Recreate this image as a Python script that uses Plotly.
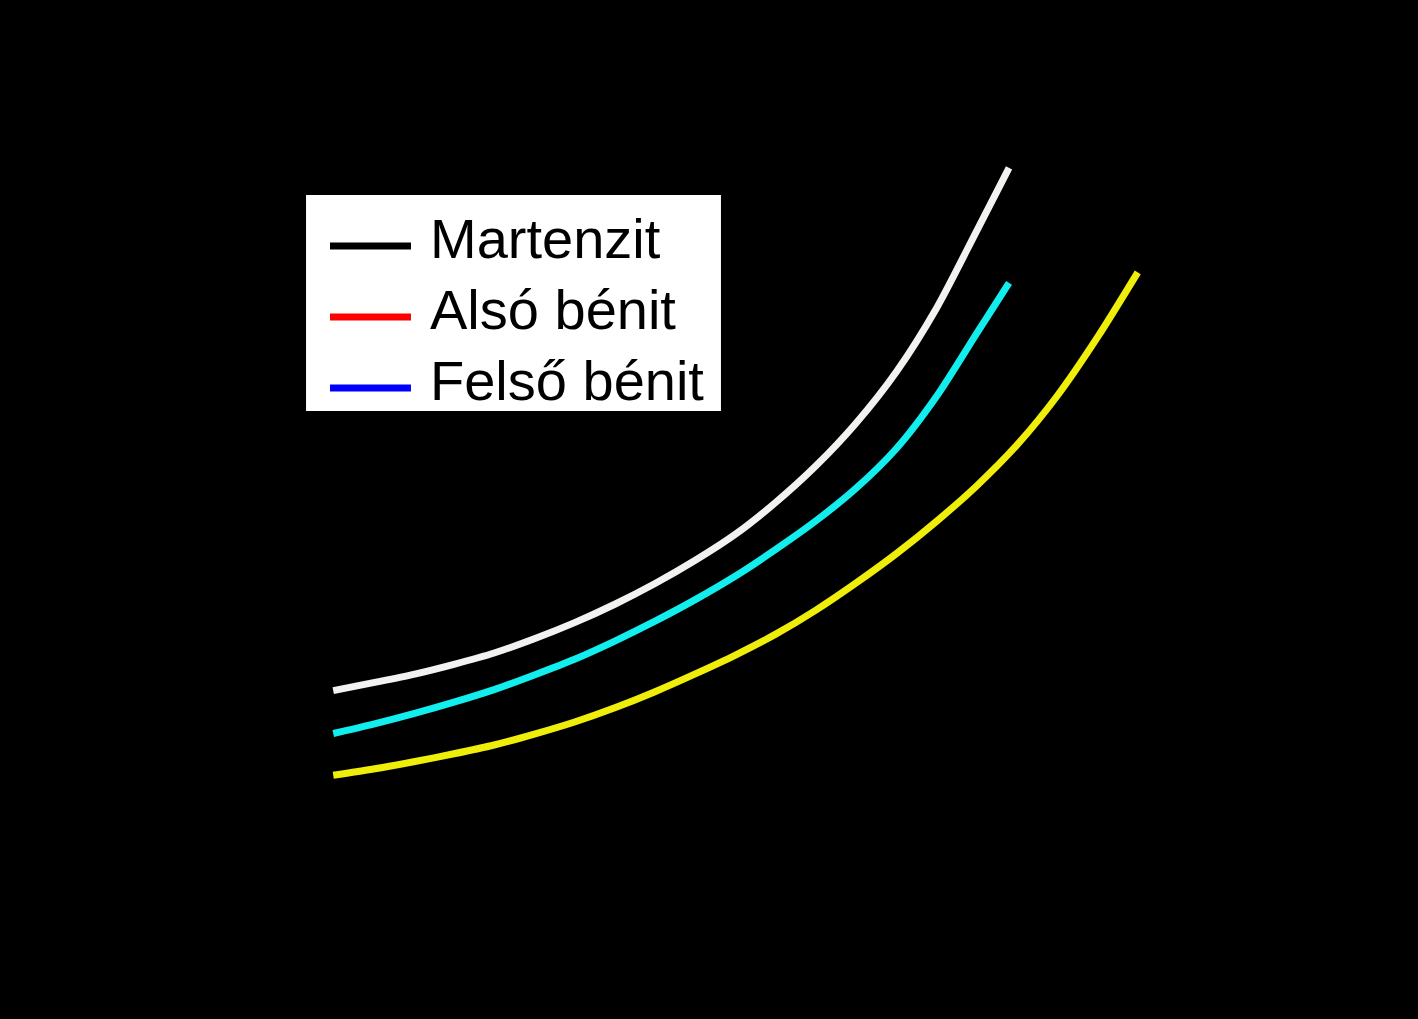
import plotly.graph_objects as go

# Törési szívósság a hőmérséklet függvényében
temp_mart = [-200, -190, -180, -170, -160, -150, -140, -130, -120, -110, -100,
             -90, -80, -70, -60, -50, -40, -32]
kic_mart = [1000, 1038, 1078, 1126, 1180, 1248, 1325, 1413, 1512, 1623, 1748,
            1900, 2075, 2280, 2525, 2830, 3200, 3500]

temp_also = [-200, -190, -180, -170, -160, -150, -140, -130, -120, -110, -100,
             -90, -80, -70, -60, -50, -40, -32]
kic_also = [795, 840, 890, 945, 1005, 1075, 1150, 1237, 1332, 1435, 1548,
            1675, 1812, 1968, 2158, 2408, 2710, 2950]

temp_felso = [-200, -190, -180, -170, -160, -150, -140, -130, -120, -110, -100,
              -90, -80, -70, -60, -50, -40, -30, -20, -10, 0]
kic_felso = [595, 625, 660, 698, 740, 792, 850, 918, 995, 1080, 1170,
             1270, 1385, 1515, 1655, 1810, 1980, 2175, 2410, 2690, 3000]

names = ["Martenzit", "Alsó bénit", "Felső bénit"]
line_colors = ["#f2f2f0", "#12eeee", "#eeee0a"]
legend_colors = ["black", "red", "blue"]

x_ticks = [-200, -150, -100, -50, 0]
x_labels = ["-200", "-150", "-100", "-50", "0"]
y_ticks = [500, 1000, 1500, 2000, 2500, 3000, 3500]

txt = "black"
fnt = "Liberation Sans, Arial, sans-serif"

fig = go.Figure()
for t, k, n, c in zip([temp_mart, temp_also, temp_felso],
                      [kic_mart, kic_also, kic_felso], names, line_colors):
    fig.add_trace(go.Scatter(x=t, y=k, name=n, mode="lines", showlegend=False,
                             line=dict(color=c, width=7, shape="spline", smoothing=0.8)))

# kézi jelmagyarázat (fehér doboz)
shapes = [dict(type="rect", xref="paper", yref="paper", x0=0.0136, x1=0.4847,
               y0=0.5977, y1=0.9044, fillcolor="white", line=dict(color="black", width=2))]
annots = []
rows = [0.8312, 0.7314, 0.6315]
for n, c, yy in zip(names, legend_colors, rows):
    shapes.append(dict(type="line", xref="paper", yref="paper", x0=0.0418, x1=0.1333,
                       y0=yy, y1=yy, line=dict(color=c, width=7)))
    annots.append(dict(text=n, xref="paper", yref="paper", x=0.1530, y=yy + 0.010,
                       xanchor="left", yanchor="middle", showarrow=False,
                       font=dict(size=56, color="black", family=fnt)))

fig.update_layout(
    width=1418, height=1019,
    paper_bgcolor="black", plot_bgcolor="black",
    margin=dict(l=293, r=240, t=126, b=182),
    font=dict(family=fnt, color=txt),
    shapes=shapes, annotations=annots,
    xaxis=dict(range=[-210, 10], tickvals=x_ticks, ticktext=x_labels, showgrid=False,
               zeroline=False, showline=False, ticklabelstandoff=28,
               tickfont=dict(size=56, color=txt),
               title=dict(text="Hőmérséklet, °C", font=dict(size=60, color=txt),
                          standoff=8)),
    yaxis=dict(range=[300, 3700], tickvals=y_ticks, showgrid=False, zeroline=False,
               showline=False, ticklabelstandoff=64, tickfont=dict(size=56, color=txt),
               title=dict(text="Törési szívósság, MPa m<sup>0.5</sup>",
                          font=dict(size=58, color=txt), standoff=8)),
)

fig.write_html("out.html", config={"displayModeBar": False},
               post_script="document.body.style.margin='0';"
               "document.body.style.background='black';")
